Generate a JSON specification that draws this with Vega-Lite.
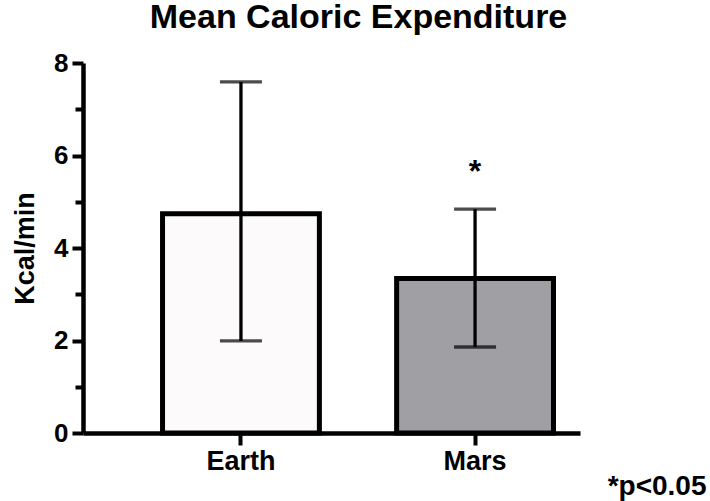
{
  "$schema": "https://vega.github.io/schema/vega-lite/v6.json",
  "autosize": {"type": "none"},
  "width": 497,
  "height": 370,
  "padding": {"left": 83, "top": 63, "right": 130, "bottom": 68},
  "background": "white",
  "config": {
    "font": "Liberation Sans",
    "view": {"stroke": null}
  },
  "title": {
    "text": "Mean Caloric Expenditure",
    "font": "Liberation Sans",
    "fontSize": 34,
    "fontWeight": "bold",
    "color": "black",
    "anchor": "middle",
    "dx": 27,
    "offset": 15
  },
  "data": {
    "values": [
      {"planet": "Earth", "mean": 4.74, "lo": 1.99, "hi": 7.59, "sig": ""},
      {"planet": "Mars", "mean": 3.34, "lo": 1.86, "hi": 4.84, "sig": "*"}
    ]
  },
  "encoding": {
    "x": {
      "field": "planet",
      "type": "nominal",
      "sort": ["Earth", "Mars"],
      "scale": {"paddingInner": 0.33, "paddingOuter": 0.2265, "align": 0.75},
      "axis": {
        "title": "*p<0.05",
        "titleFont": "Liberation Sans",
        "titleFontSize": 28,
        "titleFontWeight": "bold",
        "titleColor": "black",
        "titleAnchor": "end",
        "titleAlign": "right",
        "titleBaseline": "alphabetic",
        "titleX": 623,
        "titleY": 61,
        "labelAngle": 0,
        "labelFont": "Liberation Sans",
        "labelFontSize": 27,
        "labelFontWeight": "bold",
        "labelColor": "black",
        "labelPadding": 3,
        "domainColor": "black",
        "domainWidth": 4.5,
        "tickColor": "black",
        "tickWidth": 4,
        "tickSize": 12,
        "grid": false
      }
    }
  },
  "layer": [
    {
      "mark": {"type": "bar", "stroke": "black", "strokeWidth": 5},
      "encoding": {
        "y": {
          "field": "mean",
          "type": "quantitative",
          "scale": {"domain": [0, 8], "nice": false},
          "axis": {
            "title": "Kcal/min",
            "titleFont": "Liberation Sans",
            "titleFontSize": 27,
            "titleFontWeight": "bold",
            "titleColor": "black",
            "titlePadding": 14,
            "values": [0, 1, 2, 3, 4, 5, 6, 7, 8],
            "labelExpr": "datum.value % 2 === 0 ? datum.label : ''",
            "labelFont": "Liberation Sans",
            "labelFontSize": 26,
            "labelFontWeight": "bold",
            "labelColor": "black",
            "labelPadding": 4,
            "domainColor": "black",
            "domainWidth": 4.5,
            "tickColor": "black",
            "tickWidth": 4,
            "tickSize": {"condition": {"test": "datum.value % 2 === 1", "value": 8}, "value": 11},
            "grid": false
          }
        },
        "color": {
          "field": "planet",
          "type": "nominal",
          "scale": {"domain": ["Earth", "Mars"], "range": ["#FCFAFB", "#A09FA4"]},
          "legend": null
        }
      }
    },
    {
      "mark": {"type": "rule", "color": "black", "strokeWidth": 3.3},
      "encoding": {
        "y": {"field": "lo", "type": "quantitative"},
        "y2": {"field": "hi"}
      }
    },
    {
      "mark": {"type": "tick", "color": "black", "thickness": 3.3, "size": 42},
      "encoding": {"y": {"field": "lo", "type": "quantitative"}}
    },
    {
      "mark": {"type": "tick", "color": "black", "thickness": 3.3, "size": 42},
      "encoding": {"y": {"field": "hi", "type": "quantitative"}}
    },
    {
      "mark": {"type": "text", "font": "Liberation Sans", "fontSize": 32, "fontWeight": "bold", "color": "black", "baseline": "middle"},
      "encoding": {
        "y": {"datum": 5.65, "type": "quantitative"},
        "text": {"field": "sig"}
      }
    }
  ]
}
